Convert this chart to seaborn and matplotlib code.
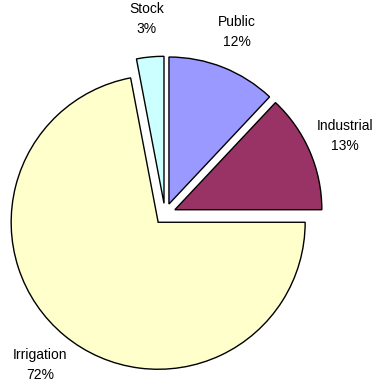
import matplotlib
matplotlib.use("Agg")
import matplotlib.pyplot as plt
import seaborn as sns

# Water use by sector (percent of total)
sectors = ["Public", "Industrial", "Irrigation", "Stock"]
shares = [12, 13, 72, 3]
colors = ["#9999FF", "#993366", "#FFFFCC", "#CCFFFF"]
explode = [0.073, 0.073, 0.073, 0.073]

sns.set_theme(style="white")
plt.rcParams["font.family"] = ["Liberation Sans", "DejaVu Sans"]

W, H = 376, 383
fig = plt.figure(figsize=(W / 100, H / 100), dpi=100)
ax = fig.add_axes([0, 0, 1, 1])

labels = [f"{s}\n{v}%" for s, v in zip(sectors, shares)]
wedges, texts = ax.pie(
    shares,
    labels=labels,
    colors=colors,
    explode=explode,
    startangle=90,
    counterclock=False,
    radius=1.0,
    labeldistance=1.26,
    wedgeprops=dict(edgecolor="black", linewidth=1.0),
    textprops=dict(fontsize=10, color="black"),
)
for t in texts:
    t.set_ha("center")
    t.set_va("center")
    t.set_multialignment("center")
    t.set_linespacing(1.5)

# Place the pie: 147 px per unit, centre at (165, 169) px from bottom-left
scale = 147.0
cx, cy = 165.0, H - 214.0
ax.set_xlim(-cx / scale, (W - cx) / scale)
ax.set_ylim(-cy / scale, (H - cy) / scale)
ax.set_aspect("auto")
ax.axis("off")

fig.savefig("out.png", dpi=100, facecolor="white")
